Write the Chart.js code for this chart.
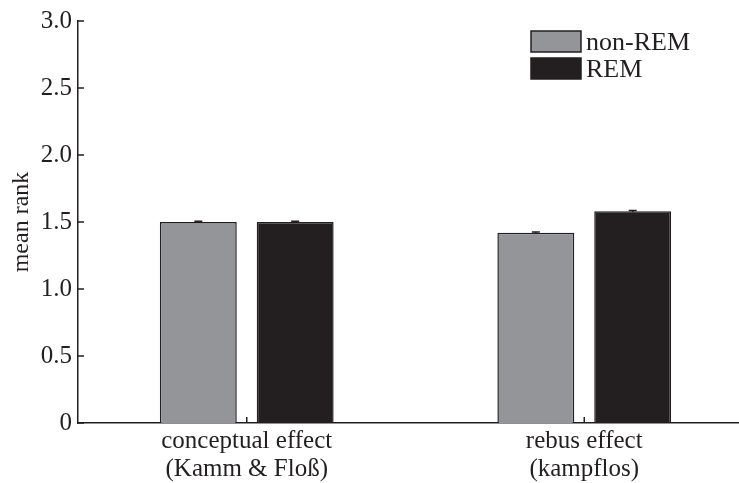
<!DOCTYPE html>
<html>
<head>
<meta charset="utf-8">
<script src="https://cdn.jsdelivr.net/npm/chart.js@4.4.0/dist/chart.umd.min.js"></script>
<style>
  html, body { margin: 0; padding: 0; background: #fff; overflow: hidden; }
  #wrap { width: 755px; height: 483px; position: relative; }
</style>
</head>
<body>
<div id="wrap"><canvas id="myChart" width="755" height="483"></canvas></div>
<script>
var categories = [['conceptual effect', '(Kamm & Floß)'], ['rebus effect', '(kampflos)']];
var nonRem = [1.50, 1.42];
var rem = [1.50, 1.58];
var nonRemErr = [0.005, 0.005];
var remErr = [0.005, 0.005];
var yTickLabels = ['0', '0.5', '1.0', '1.5', '2.0', '2.5', '3.0'];

var serif = '"Liberation Serif", "DejaVu Serif", serif';

// error bars + inward tick marks
var extras = {
    id: 'extras',
    afterDatasetsDraw: function(chart) {
        var ctx = chart.ctx;
        var y = chart.scales.y;
        var errs = [nonRemErr, remErr];
        ctx.save();
        ctx.strokeStyle = '#231f20';
        ctx.lineWidth = 1.5;
        chart.data.datasets.forEach(function(ds, i) {
            chart.getDatasetMeta(i).data.forEach(function(bar, j) {
                var top = y.getPixelForValue(ds.data[j] + errs[i][j]);
                var bot = y.getPixelForValue(ds.data[j] - errs[i][j]);
                ctx.beginPath();
                ctx.moveTo(bar.x, top); ctx.lineTo(bar.x, bot);
                ctx.moveTo(bar.x - 4, top); ctx.lineTo(bar.x + 4, top);
                ctx.stroke();
            });
        });
        ctx.restore();
    },
    afterDraw: function(chart) {
        var ctx = chart.ctx;
        var area = chart.chartArea;
        var y = chart.scales.y, x = chart.scales.x;
        ctx.save();
        ctx.strokeStyle = '#231f20';
        ctx.lineWidth = 1.5;
        ctx.beginPath();
        y.ticks.forEach(function(t, i) {
            var py = y.getPixelForTick(i);
            ctx.moveTo(area.left, py); ctx.lineTo(area.left + 6, py);
        });
        x.ticks.forEach(function(t, i) {
            var px = x.getPixelForTick(i);
            ctx.moveTo(px, area.bottom); ctx.lineTo(px, area.bottom - 6);
        });
        ctx.stroke();

        // legend
        var lx = 531, ly = 31;
        ctx.font = '26px ' + serif;
        ctx.textBaseline = 'middle';
        chart.data.datasets.forEach(function(ds, i) {
            var by = ly + i * 27;
            ctx.fillStyle = ds.backgroundColor;
            ctx.fillRect(lx, by, 50, 21);
            ctx.lineWidth = 1.5;
            ctx.strokeStyle = '#231f20';
            ctx.strokeRect(lx, by, 50, 21);
            ctx.fillStyle = '#231f20';
            ctx.fillText(ds.label, lx + 55, by + 12);
        });
        ctx.restore();
    }
};

var myChart = new Chart(document.getElementById('myChart'), {
    type: 'bar',
    data: {
        labels: categories,
        datasets: [{
            label: 'non-REM',
            data: nonRem,
            backgroundColor: '#939598',
            borderColor: '#231f20',
            borderWidth: 1.5
        }, {
            label: 'REM',
            data: rem,
            backgroundColor: '#231f20',
            borderColor: '#231f20',
            borderWidth: 1.5
        }]
    },
    options: {
        responsive: false,
        animation: false,
        maintainAspectRatio: false,
        categoryPercentage: 0.574,
        barPercentage: 0.794,
        layout: { padding: { top: 16, right: 2, left: 0, bottom: 0 } },
        plugins: {
            legend: { display: false },
            tooltip: { enabled: false }
        },
        scales: {
            x: {
                grid: { display: false, drawTicks: false },
                border: { color: '#231f20', width: 1.5 },
                ticks: {
                    color: '#231f20',
                    font: { family: serif, size: 25, lineHeight: 1.1 },
                    padding: 5,
                    maxRotation: 0
                },
                afterFit: function(scale) { scale.height = 60; }
            },
            y: {
                min: 0,
                max: 3,
                grid: { display: false, drawTicks: false },
                border: { color: '#231f20', width: 1.5 },
                ticks: {
                    stepSize: 0.5,
                    color: '#231f20',
                    font: { family: serif, size: 25 },
                    padding: 6,
                    callback: function(v, i) { return yTickLabels[i]; }
                },
                title: {
                    display: true,
                    text: 'mean rank',
                    color: '#231f20',
                    font: { family: serif, size: 24 },
                    padding: { top: 7, bottom: 0 }
                },
                afterFit: function(scale) { scale.width = 78; }
            }
        }
    },
    plugins: [extras]
});
</script>
</body>
</html>
